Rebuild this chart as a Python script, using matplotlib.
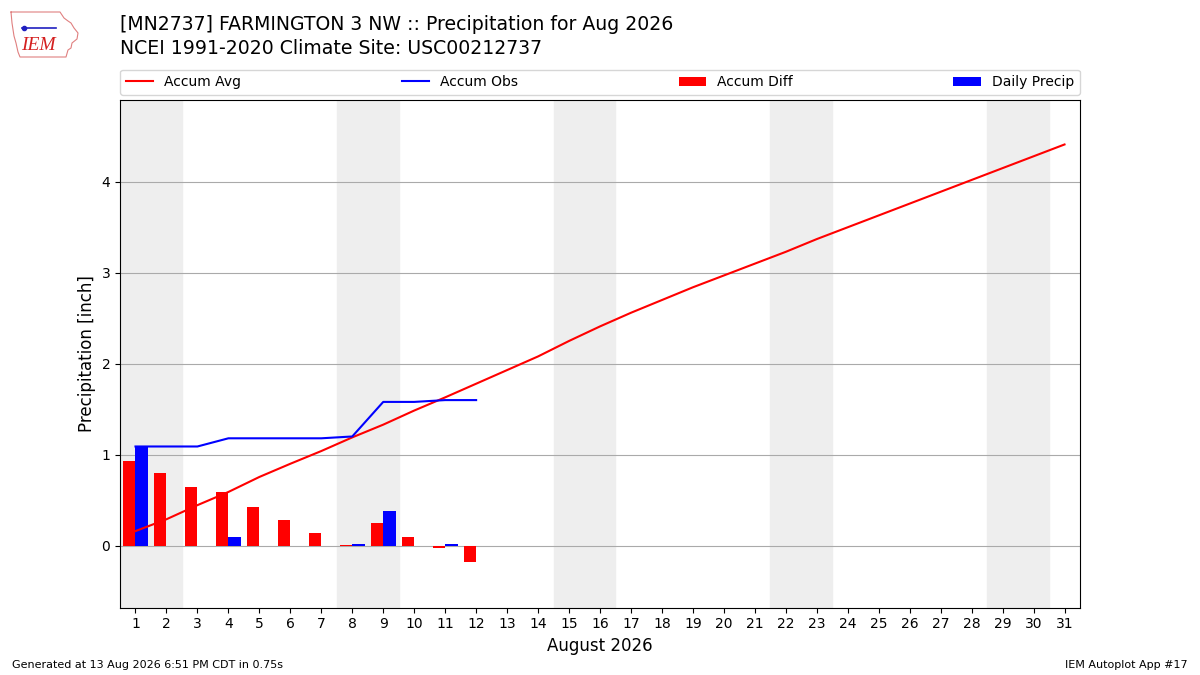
import matplotlib

matplotlib.use("Agg")
import matplotlib.pyplot as plt
import numpy as np

days = np.arange(1, 32)
obs_days = np.arange(1, 13)

accum_avg = [0.16, 0.29, 0.445, 0.59, 0.755, 0.90, 1.04, 1.19, 1.33, 1.485, 1.63, 1.78,
             1.93, 2.08, 2.25, 2.41, 2.56, 2.70, 2.84, 2.97, 3.10, 3.23, 3.37, 3.50,
             3.63, 3.76, 3.89, 4.02, 4.15, 4.28, 4.41]
accum_obs = [1.09, 1.09, 1.09, 1.18, 1.18, 1.18, 1.18, 1.20, 1.58, 1.58, 1.60, 1.60]
accum_diff = [0.93, 0.80, 0.645, 0.59, 0.425, 0.28, 0.14, 0.01, 0.25, 0.095, -0.03, -0.18]
daily_precip = [1.09, 0, 0, 0.09, 0, 0, 0, 0.02, 0.38, 0, 0.02, 0]
weekend_starts = [1, 8, 15, 22, 29]

fig = plt.figure(figsize=(12, 6.75), dpi=100)
ax = fig.add_axes([0.1, 0.1, 0.8, 0.752])

for d in weekend_starts:
    ax.axvspan(d - 0.5, d + 1.5, color="#eeeeee", zorder=0)

ax.plot(days, accum_avg, color="r", label="Accum Avg", zorder=3)
ax.plot(obs_days, accum_obs, color="b", label="Accum Obs", zorder=3)
ax.bar(obs_days - 0.4, accum_diff, width=0.4, align="edge", color="r",
       label="Accum Diff", zorder=2)
ax.bar(obs_days, daily_precip, width=0.4, align="edge", color="b",
       label="Daily Precip", zorder=2)

ax.set_xlim(0.5, 31.5)
ax.set_ylim(-0.68, 4.9)
ax.set_xticks(days)
ax.set_yticks([0, 1, 2, 3, 4])
ax.grid(True, axis="y", color="#aaaaaa", zorder=1)
ax.set_axisbelow(True)
ax.set_xlabel("August 2026", fontsize=12)
ax.set_ylabel("Precipitation [inch]", fontsize=12)

ax.legend(ncol=4, loc="lower left", mode="expand", bbox_to_anchor=(0, 1.01, 1, 0.05),
          borderaxespad=0, fontsize=10)

fig.text(0.1, 1 - 25 / 675, "[MN2737] FARMINGTON 3 NW :: Precipitation for Aug 2026",
         fontsize=13.6, va="center")
fig.text(0.1, 1 - 48 / 675, "NCEI 1991-2020 Climate Site: USC00212737",
         fontsize=13.6, va="center")

# rough stand-in for the IEM logo: state outline plus lettering
logo = fig.add_axes([8 / 1200, 1 - 60 / 675, 72 / 1200, 52 / 675])
logo.set_xlim(0, 72)
logo.set_ylim(52, 0)
logo.axis("off")
outline_x = [3, 52, 56, 60, 63, 66, 70, 69, 64, 63, 60, 58, 12, 10, 8, 6, 4, 3]
outline_y = [4, 4, 10, 13, 15, 20, 25, 31, 35, 40, 42, 49, 49, 44, 35, 28, 15, 4]
logo.plot(outline_x, outline_y, color="#e08080", lw=0.8)
logo.plot([14, 48], [20, 20], color="#2020c0", lw=1.2)
logo.plot([16], [20], "o", color="#2020c0", ms=3)
fig.text(21 / 1200, 1 - 45 / 675, "IEM", color="#d42020", fontsize=14,
         family="Liberation Serif", style="italic", va="center")

fig.text(12 / 1200, 1 - 665 / 675, "Generated at 13 Aug 2026 6:51 PM CDT in 0.75s",
         fontsize=8, va="center")
fig.text(1188 / 1200, 1 - 665 / 675, "IEM Autoplot App #17", fontsize=8,
         ha="right", va="center")

fig.savefig("out.png", dpi=100)
